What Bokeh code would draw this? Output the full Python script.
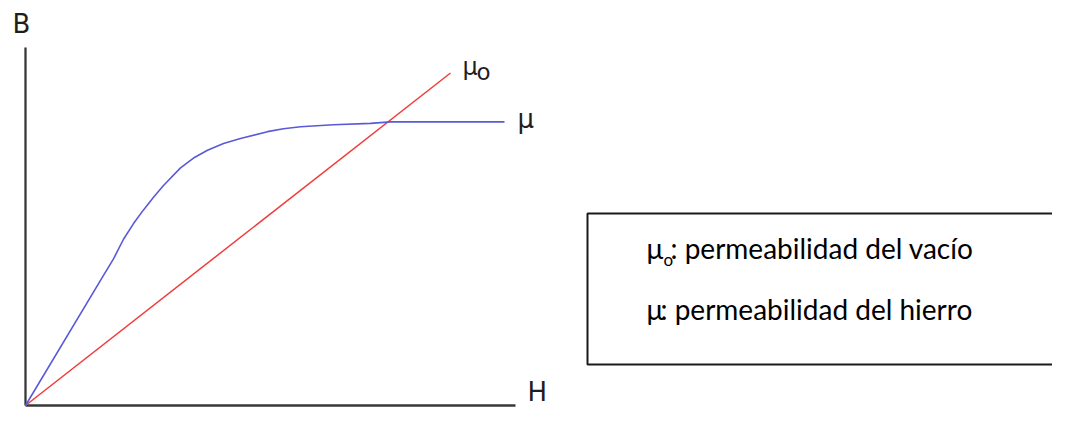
from bokeh.plotting import figure
from bokeh.models import Range1d
from bokeh.core.properties import value
from bokeh.embed import file_html
from bokeh.resources import INLINE

# ---- data (arbitrary H / B units, origin at 0,0) ----
H_iron = [0, 7.8, 8.8, 9.8, 10.8, 11.8, 12.8, 13.8, 15.5, 16.8, 18.2, 19.8,
          21.5, 24.2, 25.8, 27.5, 30.8, 34.5, 36.5, 47.9]
B_iron = [0, 13.3, 15.0, 17.0, 18.6, 20.0, 21.3, 22.5, 24.3, 25.3, 26.1, 26.8,
          27.3, 28.0, 28.3, 28.5, 28.7, 28.85, 29.0, 29.0]
H_vac = [0, 42.5]
B_vac = [0, 34.0]
H_axis_end = 49.0
B_axis_end = 36.6

axis_labels = ["B", "H"]
curve_labels = ["μ", "o"]
legend_lines = [("μ", "o", ": permeabilidad del vacío"),
                ("μ", "", ": permeabilidad del hierro")]

# ---- layout ----
W, H = 1052, 408
PXX, PXY = 10.0, 9.78          # pixels per data unit
OX, OY = 25, 405               # origin in figure pixels (from top-left)
BL = 0.37                      # baseline correction (em) for the svg text


def dx(px):
    return (px - OX) / PXX


def dy(py):
    return (OY - py) / PXY


p = figure(width=W, height=H, output_backend="svg", toolbar_location=None,
           x_range=Range1d(dx(0), dx(W)), y_range=Range1d(dy(H), dy(0)),
           min_border=0, outline_line_color=None)
p.xaxis.visible = False
p.yaxis.visible = False
p.xgrid.visible = False
p.ygrid.visible = False
p.background_fill_color = "white"
p.border_fill_color = "white"

AX = "#383838"
# axes
p.line([0, 0], [0, B_axis_end], line_color=AX, line_width=2.3)
p.line([0, H_axis_end], [0, 0], line_color=AX, line_width=2.3)

# curves
p.line(H_vac, B_vac, line_color="#f03c3c", line_width=1.5)
p.line(H_iron, B_iron, line_color="#5a5ad8", line_width=1.6)

LF = value("DejaVu Sans")
LC = "#1e1e1e"


def lab(x, y, t, size, xo, yo, font=LF, color=LC):
    p.text([x], [y], text=[t], text_font=font, text_font_size=f"{size}px",
           text_color=color, x_offset=xo, y_offset=yo - BL * size,
           text_baseline="alphabetic")


# axis labels
lab(0, B_axis_end, axis_labels[0], 26, -13, -14)
lab(H_axis_end, 0, axis_labels[1], 26, 12, -4)

# curve labels
lab(H_vac[-1], B_vac[-1], curve_labels[0], 24, 12, 3)
lab(H_vac[-1], B_vac[-1], curve_labels[1], 23, 26, 8)
lab(H_iron[-1], B_iron[-1], curve_labels[0], 26, 13, 7)

# legend box (pixel layout converted to data units)
p.quad(left=[dx(587)], right=[dx(1070)], bottom=[dy(364)], top=[dy(213)],
       fill_color=None, line_color="#1a1a1a", line_width=2)

TF = value("Lato")
tx = dx(646)
tys = [dy(258), dy(319)]
for (mu, sub, rest), ty in zip(legend_lines, tys):
    lab(tx, ty, mu, 28, 0, 0, font=TF, color="black")
    off = 14
    if sub:
        lab(tx, ty, sub, 17, 17, 7, font=TF, color="black")
        off = 24
    lab(tx, ty, rest, 28, off, 0, font=TF, color="black")

open("out.html", "w").write(file_html(p, INLINE))
